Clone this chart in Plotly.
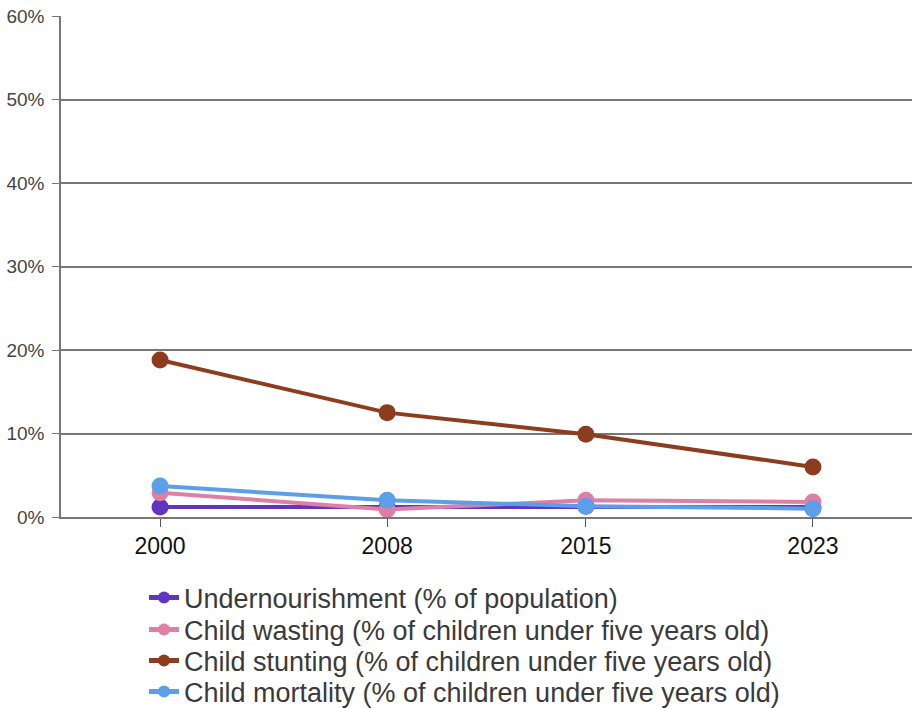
import plotly.graph_objects as go

years = [2000, 2008, 2015, 2023]
undernourishment = [1.2, 1.2, 1.3, 1.2]
child_wasting = [2.9, 0.9, 2.0, 1.8]
child_stunting = [18.8, 12.5, 9.9, 6.0]
child_mortality = [3.7, 2.0, 1.3, 1.0]

series = [
    ("Undernourishment (% of population)", undernourishment, "#5f37bf"),
    ("Child wasting (% of children under five years old)", child_wasting, "#e07fa6"),
    ("Child stunting (% of children under five years old)", child_stunting, "#8d3d1e"),
    ("Child mortality (% of children under five years old)", child_mortality, "#5c9ee8"),
]
legend_rows = [598, 630, 661, 692]  # pixel centres of legend rows

FONT = "Liberation Sans, Arial, sans-serif"
fig = go.Figure()
layout_legends = {}
for i, (name, vals, col) in enumerate(series):
    lg = "legend" if i == 0 else f"legend{i+1}"
    fig.add_trace(go.Scatter(
        x=years, y=vals, name=name, mode="lines+markers",
        line=dict(color=col, width=4),
        marker=dict(color=col, size=17),
        legend=lg,
    ))
    layout_legends[lg] = dict(
        xref="container", yref="container",
        x=144 / 916, y=1 - legend_rows[i] / 709,
        xanchor="left", yanchor="middle",
        font=dict(size=27, color="#3a3a3a", family=FONT),
        itemwidth=30, itemsizing="constant",
        bgcolor="rgba(0,0,0,0)",
    )

fig.update_layout(
    width=916, height=709,
    margin=dict(l=61, r=4, t=16, b=192, autoexpand=False),
    paper_bgcolor="white", plot_bgcolor="white",
    font=dict(family=FONT, color="#333"),
    showlegend=True,
    **layout_legends,
)
fig.update_xaxes(
    type="linear", range=[1996.51, 2026.49],
    tickvals=years, ticktext=[str(y) for y in years],
    showgrid=False, showline=True, linecolor="#777", linewidth=1.5,
    ticks="outside", ticklen=8, tickcolor="#555",
    tickfont=dict(size=23, color="#111", family=FONT),
    tickangle=0,
    zeroline=False,
)
fig.update_yaxes(
    range=[0, 60], dtick=10, ticksuffix="%",
    showgrid=True, gridcolor="#777", gridwidth=1.5,
    showline=True, linecolor="#777", linewidth=1.5,
    ticks="outside", ticklen=7, tickcolor="#777",
    ticklabelstandoff=4,
    tickfont=dict(size=19, color="#444", family=FONT),
    zeroline=False,
)

fig.write_html("out.html")
